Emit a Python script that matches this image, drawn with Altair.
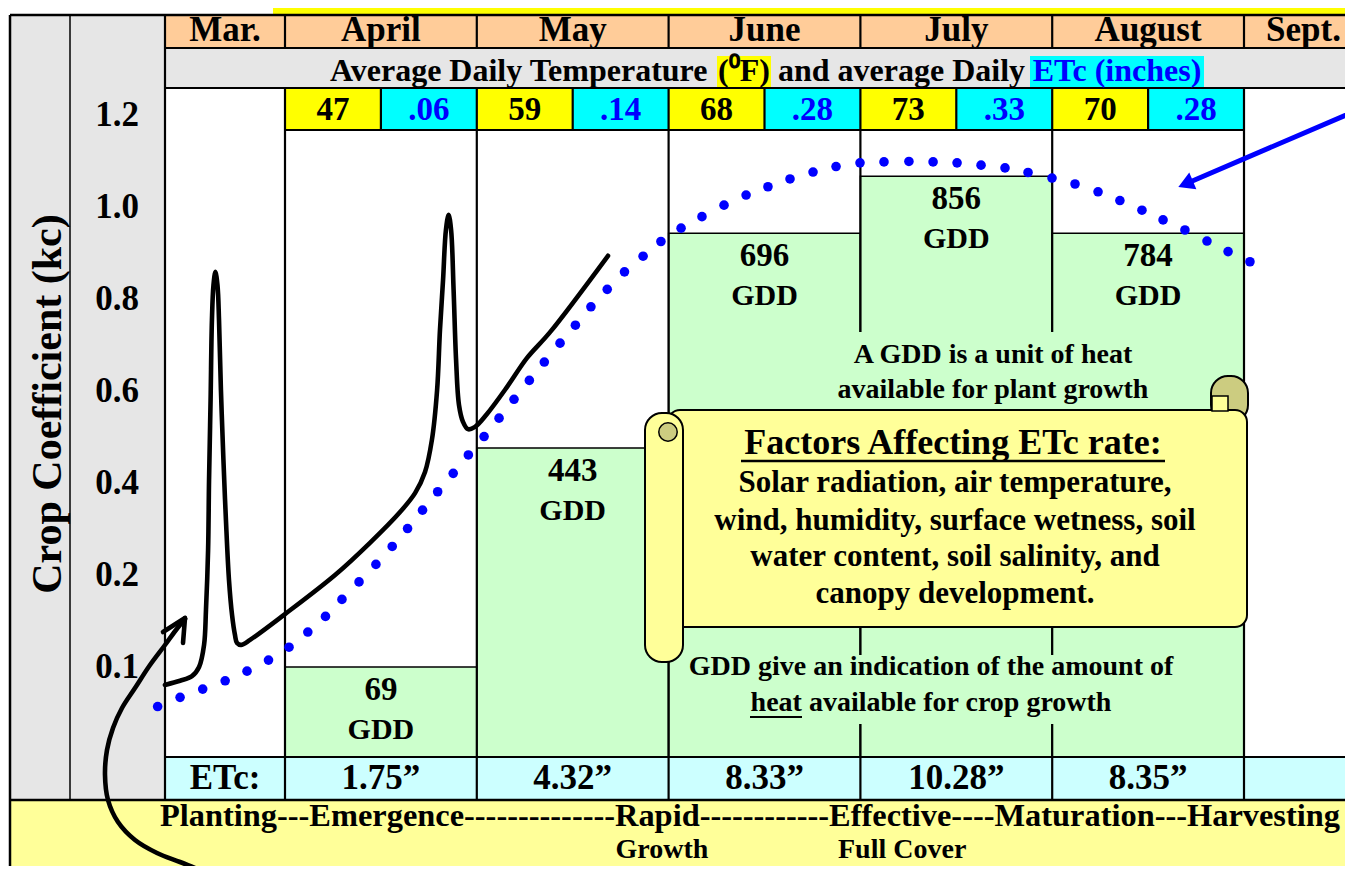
import altair as alt
import pandas as pd

# ---------------- values ----------------
months = ["Mar.", "April", "May", "June", "July", "August", "Sept."]
month_label_x = [3.687, 4.5, 5.5, 6.5, 7.5, 8.5, 9.31]   # on the month axis (April = 4..5)
temps_f = ["47", "59", "68", "73", "70"]                 # April .. August
etc_daily = [".06", ".14", ".28", ".33", ".28"]
gdd = ["69", "443", "696", "856", "784"]
gdd_level_kc = [0.0, 0.476, 0.943, 1.067, 0.943]
etc_month = ["1.75\u201d", "4.32\u201d", "8.33\u201d", "10.28\u201d", "8.35\u201d"]
kc_ticks = ["1.2", "1.0", "0.8", "0.6", "0.4", "0.2", "0.1"]
kc_tick_pos = [1.2, 1.0, 0.8, 0.6, 0.4, 0.2, 0.0]
stages = "Planting---Emergence--------------Rapid------------Effective----Maturation---Harvesting"

# blue dotted kc curve (month axis, kc)
dot_month = [3.336, 3.453, 3.571, 3.688, 3.802, 3.914, 4.021, 4.119, 4.211, 4.297,
             4.386, 4.474, 4.559, 4.639, 4.717, 4.796, 4.877, 4.956, 5.038, 5.116,
             5.194, 5.274, 5.352, 5.434, 5.514, 5.595, 5.680, 5.770, 5.867, 5.960,
             6.065, 6.174, 6.289, 6.404, 6.518, 6.633, 6.753, 6.873, 6.998, 7.123,
             7.253, 7.379, 7.504, 7.629, 7.754, 7.874, 7.999, 8.119, 8.239, 8.353,
             8.468, 8.578, 8.692, 8.807, 8.917, 9.031]
dot_kc = [-0.086, -0.066, -0.048, -0.030, -0.009, 0.015, 0.043, 0.076, 0.110, 0.147,
          0.185, 0.223, 0.262, 0.301, 0.341, 0.381, 0.421, 0.461, 0.501, 0.541,
          0.582, 0.623, 0.663, 0.704, 0.743, 0.783, 0.821, 0.859, 0.893, 0.925,
          0.954, 0.979, 1.004, 1.026, 1.044, 1.061, 1.076, 1.088, 1.096, 1.098,
          1.099, 1.098, 1.096, 1.091, 1.085, 1.075, 1.063, 1.050, 1.033, 1.014,
          0.993, 0.972, 0.950, 0.926, 0.903, 0.881]

# black kc curve with the two wetting spikes
curve_month = [3.374, 3.453, 3.515, 3.552, 3.578, 3.588, 3.599, 3.604, 3.612, 3.619,
               3.627, 3.637, 3.648, 3.656, 3.666, 3.679, 3.692, 3.708, 3.724, 3.739,
               3.750, 3.771, 3.818, 4.000, 4.261, 4.443, 4.600, 4.678, 4.730, 4.766,
               4.793, 4.808, 4.824, 4.839, 4.853, 4.866, 4.879, 4.892, 4.907, 4.928,
               4.954, 4.991, 5.053, 5.158, 5.262, 5.382, 5.684]
curve_kc = [-0.039, -0.030, -0.020, 0.000, 0.048, 0.124, 0.254, 0.407, 0.580, 0.754,
            0.830, 0.859, 0.830, 0.754, 0.602, 0.450, 0.320, 0.189, 0.113, 0.070,
            0.052, 0.048, 0.059, 0.115, 0.200, 0.270, 0.337, 0.378, 0.424, 0.494,
            0.602, 0.733, 0.841, 0.950, 0.983, 0.950, 0.820, 0.667, 0.570, 0.533,
            0.517, 0.522, 0.550, 0.609, 0.672, 0.728, 0.894]

# ---------------- layout helpers (reference pixel -> axis units) ----------------
def mx(p):
    return 4 + (p - 285) / 191.8


def ky(q):
    return (667 - q) / 460


W, H = 1337, 858
XS = alt.Scale(domain=[mx(8), mx(1345)], nice=False, zero=False)
YS = alt.Scale(domain=[ky(866), ky(8)], nice=False, zero=False)
FONT = "Liberation Serif"


def X(f="x"):
    return alt.X(f"{f}:Q", scale=XS, axis=None)


def Y(f="y"):
    return alt.Y(f"{f}:Q", scale=YS, axis=None)


def rects(rows, **mark):
    df = pd.DataFrame(rows, columns=["x", "x2", "y", "y2", "c"])
    return alt.Chart(df).mark_rect(**mark).encode(
        x=X(), x2="x2:Q", y=Y(), y2="y2:Q", color=alt.Color("c:N", scale=None))


def rules(rows, **mark):
    df = pd.DataFrame(rows, columns=["x", "y", "x2", "y2", "w", "c"])
    return alt.Chart(df).mark_rule(**mark).encode(
        x=X(), y=Y(), x2="x2:Q", y2="y2:Q",
        strokeWidth=alt.StrokeWidth("w:Q", scale=None),
        color=alt.Color("c:N", scale=None))


def texts(rows, align="center", angle=0, dy=0):
    df = pd.DataFrame(rows, columns=["x", "y", "t", "s", "c"])
    return alt.Chart(df).mark_text(align=align, baseline="middle", font=FONT,
                                   fontWeight="bold", angle=angle, dy=dy).encode(
        x=X(), y=Y(), text="t:N", size=alt.Size("s:Q", scale=None),
        color=alt.Color("c:N", scale=None))


L, R = mx(165), mx(1365)

# ---------------- background cells ----------------
bg = [
    (mx(273), mx(1365), ky(-5), ky(15), "#ffff00"),
    (mx(10), L, ky(15), ky(800), "#e6e6e6"),
    (L, R, ky(15), ky(48), "#ffcc99"),
    (L, R, ky(48), ky(88), "#e6e6e6"),
    (mx(717), mx(771), ky(56), ky(88), "#ffff00"),
    (mx(1030), mx(1204), ky(56), ky(88), "#00ffff"),
    (L, R, ky(757), ky(800), "#ccffff"),
    (mx(10), R, ky(800), ky(890), "#ffff99"),
]
for i in range(5):
    bg.append((4 + i, 4.5 + i, ky(88), ky(130), "#ffff00"))
    bg.append((4.5 + i, 5 + i, ky(88), ky(130), "#00ffff"))

bars = [(4 + i, 5 + i, ky(757), gdd_level_kc[i], "#ccffcc") for i in range(5)]

# ---------------- table lines ----------------
ln = [
    (mx(10), ky(15), R, ky(15), 2.5, "black"),
    (L, ky(48), R, ky(48), 2.2, "black"),
    (L, ky(88), R, ky(88), 2.2, "black"),
    (4, ky(130), 9, ky(130), 2.2, "black"),
    (L, ky(757), R, ky(757), 2.2, "black"),
    (mx(10), ky(800), R, ky(800), 2.5, "black"),
    (mx(10), ky(15), mx(10), ky(890), 2.5, "black"),
    (mx(70), ky(15), mx(70), ky(800), 1.5, "black"),
    (L, ky(15), L, ky(800), 2.2, "black"),
]
for b in [4, 5, 6, 7, 8, 9]:
    ln.append((b, ky(15), b, ky(48), 2.2, "black"))
    ln.append((b, ky(88), b, ky(800), 2.2, "black"))
for i in range(5):
    ln.append((4.5 + i, ky(88), 4.5 + i, ky(130), 2.2, "black"))

note_bg = [
    (mx(674), mx(1240), ky(332), ky(412), "#ccffcc"),
    (mx(684), mx(1240), ky(655), ky(724), "#ccffcc"),
]

# ---------------- scroll ----------------
scroll_curl_r = rects([(mx(1211), mx(1248), ky(376), ky(422), "#cccc80")],
                      stroke="black", strokeWidth=2, cornerRadius=17)
scroll_body = rects([(mx(668), mx(1247), ky(410), ky(627), "#ffff99")],
                    stroke="black", strokeWidth=2, cornerRadius=12)
scroll_strip = rects([(mx(1212), mx(1228), ky(396), ky(411), "#ffff99")],
                     stroke="black", strokeWidth=1.5)
scroll_roll = rects([(mx(645), mx(683), ky(413), ky(662), "#ffff99")],
                    stroke="black", strokeWidth=2, cornerRadius=17)
curl_dot = alt.Chart(pd.DataFrame({"x": [mx(668)], "y": [ky(432)]})).mark_circle(
    size=340, fill="#cccc80", stroke="black", strokeWidth=1.5, opacity=1).encode(x=X(), y=Y())

# ---------------- texts ----------------
center_txt = []
for lab, x in zip(months, month_label_x):
    center_txt.append((x, ky(30), lab, 35, "black"))
center_txt.append((mx(744), ky(71), "(\u2070F)", 32, "black"))
center_txt.append((mx(1117), ky(71), "ETc (inches)", 32, "#0000ff"))
for i in range(5):
    center_txt.append((4.25 + i, ky(110), temps_f[i], 33, "black"))
    center_txt.append((4.75 + i, ky(110), etc_daily[i], 33, "#0000ff"))
for lab, v in zip(kc_ticks, kc_tick_pos):
    center_txt.append((mx(117), v, lab, 35, "black"))
center_txt.append((mx(225), ky(778), "ETc:", 35, "black"))
for i in range(5):
    center_txt.append((4.5 + i, ky(778), etc_month[i], 35, "black"))
center_txt += [
    (mx(993), ky(355), "A GDD is a unit of heat", 28, "black"),
    (mx(993), ky(390), "available for plant growth", 28, "black"),
    (mx(953), ky(443), "Factors Affecting ETc rate:", 36, "black"),
    (mx(955), ky(483), "Solar radiation, air temperature,", 31, "black"),
    (mx(955), ky(521), "wind, humidity, surface wetness, soil", 31, "black"),
    (mx(955), ky(557), "water content, soil salinity, and", 31, "black"),
    (mx(955), ky(594), "canopy development.", 31, "black"),
    (mx(931), ky(667), "GDD give an indication of the amount of", 28, "black"),
    (mx(931), ky(703), "heat available for crop growth", 28, "black"),
    (mx(662), ky(850), "Growth", 28, "black"),
]
left_txt = [
    (mx(330), ky(71), "Average Daily Temperature", 32, "black"),
    (mx(778), ky(71), "and average Daily", 32, "black"),
    (mx(160), ky(816), stages, 32.4, "black"),
    (mx(838), ky(850), "Full Cover", 28, "black"),
]
gdd_num = [(4.5 + i, gdd_level_kc[i], gdd[i], 33, "black") for i in range(5)]
gdd_word = [(4.5 + i, gdd_level_kc[i], "GDD", 30, "black") for i in range(5)]
vert = [(mx(48), ky(404), "Crop Coefficient (kc)", 42, "black")]

underl = [
    (mx(741), ky(461), mx(1165), ky(461), 2.5, "black"),
    (mx(750), ky(717), mx(802), ky(717), 2, "black"),
]

# ---------------- curves and arrows ----------------
dots = alt.Chart(pd.DataFrame({"x": dot_month, "y": dot_kc})).mark_circle(
    size=92, color="#0000ff", opacity=1).encode(x=X(), y=Y())

arrow_px = [(224, 882), (212, 874), (200, 870), (180, 862), (157, 853), (135, 840),
            (118, 822), (108, 800), (105, 775), (107, 750), (113, 728), (122, 708),
            (135, 688), (150, 665), (165, 645), (176, 630), (185, 619)]
curve_rows = [{"x": m, "y": k, "g": "kc", "i": j} for j, (m, k) in enumerate(zip(curve_month, curve_kc))]
curve_rows += [{"x": mx(p), "y": ky(q), "g": "arrow", "i": j} for j, (p, q) in enumerate(arrow_px)]
black_lines = alt.Chart(pd.DataFrame(curve_rows)).mark_line(
    interpolate="catmull-rom", strokeWidth=4.6, color="black", strokeCap="round",
    strokeJoin="round").encode(x=X(), y=Y(), detail="g:N", order="i:Q")

arrow_segs = [
    (mx(163), ky(632), mx(185), ky(618), 4.6, "black"),
    (mx(185), ky(618), mx(183), ky(643), 4.6, "black"),
    (mx(1360), ky(109), mx(1190), ky(182), 5, "#0000ff"),
]
arrow_head = alt.Chart(pd.DataFrame({"x": [mx(1188)], "y": [ky(183)]})).mark_point(
    shape="triangle", angle=247, filled=True, size=330, color="#0000ff", opacity=1).encode(x=X(), y=Y())

chart = alt.layer(
    rects(bg),
    rects(bars, stroke="black", strokeWidth=1.5),
    rules(ln),
    rects(note_bg),
    scroll_curl_r,
    scroll_body,
    scroll_strip,
    scroll_roll,
    curl_dot,
    texts(center_txt),
    texts(left_txt, align="left"),
    texts(gdd_num, dy=23),
    texts(gdd_word, dy=63),
    texts(vert, angle=270),
    rules(underl),
    dots,
    black_lines,
    rules(arrow_segs, strokeCap="round"),
    arrow_head,
).properties(
    width=W, height=H, padding=0,
    autosize=alt.AutoSizeParams(type="none"), background="white",
).configure_view(stroke=None)

chart.save("out.html", embed_options={"renderer": "svg", "actions": False})
